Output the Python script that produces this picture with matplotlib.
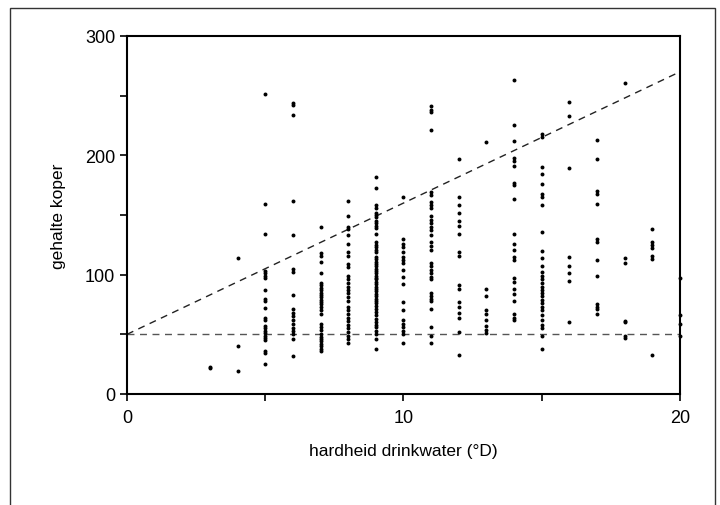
import matplotlib
matplotlib.use("Agg")
import matplotlib.pyplot as plt
from matplotlib.patches import Rectangle
from matplotlib.ticker import MultipleLocator

plt.rcParams["font.family"] = ["Liberation Sans", "DejaVu Sans"]

# -------- DATA (gehalte koper per hardheid drinkwater, °D) --------
koper_3 = [22, 23]
koper_4 = [114, 40, 19]
koper_5 = [251, 159, 134, 103, 101, 99, 97, 87, 80, 78, 72, 64, 62, 57, 55, 53, 51, 49, 47, 45, 36, 34, 25]
koper_6 = [244, 242, 234, 162, 133, 105, 102, 83, 71, 68, 65, 62, 59, 55, 53, 50, 46, 32]
koper_7 = [140, 118, 116, 111, 101, 93, 91, 89, 87, 85, 83, 81, 79, 77, 75, 73, 70, 67, 59, 56, 54,
           50, 48, 46, 44, 42, 40, 38, 36]
koper_8 = [162, 149, 140, 138, 133, 126, 119, 116, 109, 106, 99, 96, 93, 90, 87, 85, 81, 78, 73, 70,
           67, 64, 61, 58, 55, 52, 49, 46, 43]
koper_9 = [182, 173, 158, 156, 152, 150, 148, 145, 143, 141, 139, 134, 127, 125, 123, 121, 119, 115,
           113, 111, 109, 107, 105, 103, 101, 99, 97, 96, 94, 92, 90, 88, 86, 84, 82, 80, 78, 76, 74,
           71, 69, 66, 63, 60, 58, 56, 53, 50, 46, 38]
koper_10 = [165, 130, 126, 123, 119, 115, 112, 110, 104, 98, 92, 77, 70, 62, 59, 56, 53, 50, 43]
koper_11 = [241, 238, 236, 221, 169, 167, 161, 158, 156, 149, 146, 143, 140, 137, 133, 127, 124, 121,
            110, 107, 104, 101, 98, 96, 85, 82, 80, 78, 71, 56, 49, 43]
koper_12 = [197, 165, 158, 152, 145, 141, 134, 119, 116, 91, 88, 77, 73, 68, 64, 52, 33]
koper_13 = [211, 88, 82, 70, 67, 62, 57, 54, 51]
koper_14 = [263, 225, 212, 198, 195, 191, 177, 175, 163, 134, 126, 121, 115, 112, 97, 94, 88, 84, 78,
            67, 64, 62]
koper_15 = [218, 215, 190, 184, 176, 168, 165, 158, 136, 120, 114, 107, 102, 99, 96, 93, 90, 87, 85,
            82, 79, 76, 73, 70, 66, 62, 58, 55, 49, 38]
koper_16 = [245, 233, 189, 115, 107, 101, 95, 60]
koper_17 = [213, 197, 170, 168, 159, 130, 127, 112, 99, 75, 73, 71, 67]
koper_18 = [261, 114, 110, 61, 60, 49, 47]
koper_19 = [138, 127, 125, 122, 116, 113, 33]
koper_20 = [97, 66, 59, 49]

hardheid = [3, 4, 5, 6, 7, 8, 9, 10, 11, 12, 13, 14, 15, 16, 17, 18, 19, 20]
kolommen = [koper_3, koper_4, koper_5, koper_6, koper_7, koper_8, koper_9, koper_10, koper_11,
            koper_12, koper_13, koper_14, koper_15, koper_16, koper_17, koper_18, koper_19, koper_20]

# reference lines
lijn_x = [0, 20]
lijn_laag = [50, 50]
lijn_hoog = [50, 270]

xs, ys = [], []
for h, col in zip(hardheid, kolommen):
    xs += [h] * len(col)
    ys += col

# -------- PLOT --------
fig = plt.figure(figsize=(7.2, 5.06), dpi=100)
ax = fig.add_axes([0.1764, 0.2194, 0.768, 0.7075])

ax.plot(lijn_x, lijn_laag, linestyle=(0, (5, 4)), color="#555555", linewidth=1)
ax.plot(lijn_x, lijn_hoog, linestyle=(0, (5, 4)), color="#222222", linewidth=1)
ax.scatter(xs, ys, s=8, color="black", linewidths=0, zorder=3, clip_on=False)

ax.set_xlim(0, 20)
ax.set_ylim(0, 300)
ax.xaxis.set_major_locator(MultipleLocator(10))
ax.xaxis.set_minor_locator(MultipleLocator(5))
ax.yaxis.set_major_locator(MultipleLocator(100))
ax.yaxis.set_minor_locator(MultipleLocator(50))
ax.tick_params(which="both", direction="out", length=5, width=1.2, labelsize=13, colors="black")
ax.tick_params(axis="x", pad=6)
for sp in ax.spines.values():
    sp.set_linewidth(1.5)

ax.set_xlabel("hardheid drinkwater (°D)", fontsize=12.5, labelpad=12)
ax.set_ylabel("gehalte koper", fontsize=12.5, labelpad=14)

# outer frame
fig.patches.append(Rectangle((10 / 720, -0.05), 705 / 720, 1.05 - 9 / 506,
                             transform=fig.transFigure, fill=False,
                             edgecolor="#333333", linewidth=1))

fig.savefig("out.png", dpi=100)
